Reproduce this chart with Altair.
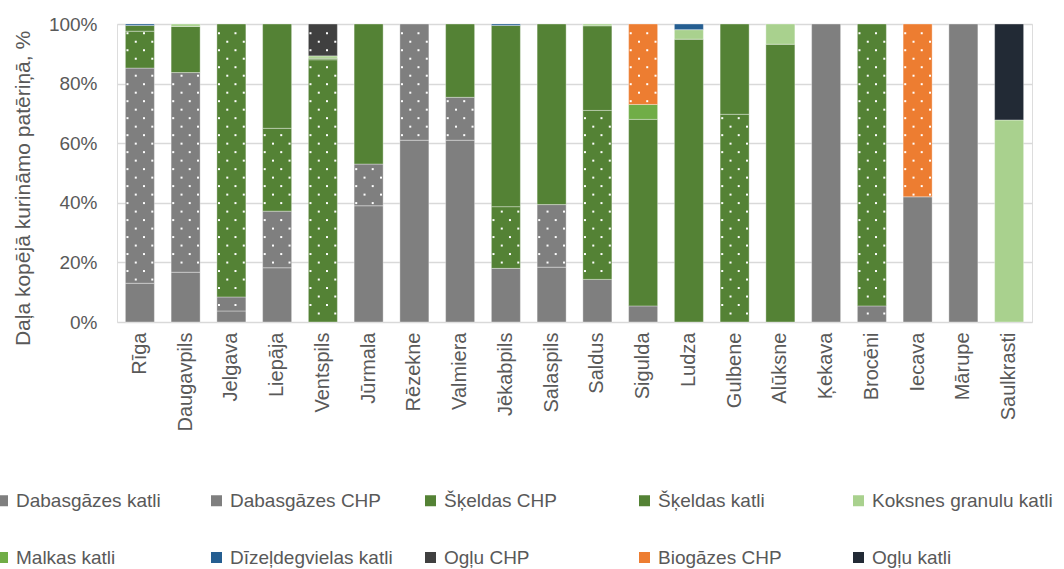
import math
import altair as alt
import pandas as pd

cities = ["Rīga", "Daugavpils", "Jelgava", "Liepāja", "Ventspils", "Jūrmala", "Rēzekne",
          "Valmiera", "Jēkabpils", "Salaspils", "Saldus", "Sigulda", "Ludza", "Gulbene",
          "Alūksne", "Ķekava", "Brocēni", "Iecava", "Mārupe", "Saulkrasti"]

series = ["Dabasgāzes katli", "Dabasgāzes CHP", "Šķeldas CHP", "Šķeldas katli",
          "Koksnes granulu katli", "Malkas katli", "Dīzeļdegvielas katli", "Ogļu CHP",
          "Biogāzes CHP", "Ogļu katli"]
colors = ["#7F7F7F", "#7F7F7F", "#548235", "#548235", "#A9D18E",
          "#70AD47", "#255E91", "#404040", "#ED7D31", "#222A35"]
dotted = ["Dabasgāzes CHP", "Šķeldas CHP", "Ogļu CHP", "Biogāzes CHP"]

# share of each fuel / technology per city, %
dabasgazes_katli = [13.0, 16.7, 3.7, 18.2, 0, 39.0, 61.0, 61.0, 18.0, 18.4,
                    14.3, 5.4, 0, 0, 0, 100.0, 0, 42.0, 100.0, 0]
dabasgazes_chp = [72.2, 67.0, 4.7, 19.0, 0, 14.0, 39.0, 14.4, 0, 21.0,
                  0, 0, 0, 0, 0, 0, 5.4, 0, 0, 0]
skeldas_chp = [12.4, 0, 91.6, 27.8, 88.0, 0, 0, 0, 20.7, 0,
               56.7, 0, 0, 69.7, 0, 0, 94.6, 0, 0, 0]
skeldas_katli = [1.9, 15.5, 0, 35.0, 0.5, 47.0, 0, 24.6, 60.8, 60.6,
                 28.4, 62.6, 94.9, 30.3, 93.2, 0, 0, 0, 0, 0]
granulu_katli = [0, 0.8, 0, 0, 0.8, 0, 0, 0, 0, 0,
                 0.6, 0, 3.2, 0, 6.8, 0, 0, 0, 0, 67.8]
malkas_katli = [0, 0, 0, 0, 0, 0, 0, 0, 0, 0,
                0, 5.0, 0, 0, 0, 0, 0, 0, 0, 0]
dizelis_katli = [0.5, 0, 0, 0, 0, 0, 0, 0, 0.5, 0,
                 0, 0, 1.9, 0, 0, 0, 0, 0, 0, 0]
oglu_chp = [0, 0, 0, 0, 10.7, 0, 0, 0, 0, 0,
            0, 0, 0, 0, 0, 0, 0, 0, 0, 0]
biogazes_chp = [0, 0, 0, 0, 0, 0, 0, 0, 0, 0,
                0, 27.0, 0, 0, 0, 0, 0, 58.0, 0, 0]
oglu_katli = [0, 0, 0, 0, 0, 0, 0, 0, 0, 0,
              0, 0, 0, 0, 0, 0, 0, 0, 0, 32.2]

values = [dabasgazes_katli, dabasgazes_chp, skeldas_chp, skeldas_katli, granulu_katli,
          malkas_katli, dizelis_katli, oglu_chp, biogazes_chp, oglu_katli]

# stacked segments (lo/hi) and the white dot texture of the CHP segments;
# dot rows alternate between two column sets (slots 0/2 and 1/3 across the bar)
DOT_STEP = 2.85
rows, dots = [], []
for i, city in enumerate(cities):
    lo = 0.0
    for j, name in enumerate(series):
        v = values[j][i]
        if v <= 0:
            continue
        hi = lo + v
        rows.append({"city": city, "series": name, "lo": lo, "hi": hi, "order": j})
        if name in dotted:
            k0 = math.ceil((lo + 0.5) / DOT_STEP)
            k1 = math.floor((hi - 0.5) / DOT_STEP)
            for k in range(k0, k1 + 1):
                for slot in ([0, 2] if k % 2 == 0 else [1, 3]):
                    dots.append({"city": city, "y": k * DOT_STEP, "slot": slot})
        lo = hi

seg = pd.DataFrame(rows)
dot_df = pd.DataFrame(dots)

FONT = "Liberation Sans"
TXT = "#595959"

x_enc = alt.X("city:N", sort=cities, title=None,
              scale=alt.Scale(paddingInner=0.366, paddingOuter=0.183),
              axis=alt.Axis(labelAngle=-90, labelFontSize=20, labelColor=TXT, labelFont=FONT,
                            labelPadding=10, domain=False, ticks=False, grid=False,
                            labelOverlap=False))

y_scale = alt.Scale(domain=[0, 100], nice=False)

bars = alt.Chart(seg).mark_bar(stroke="white", strokeOpacity=0.35, strokeWidth=1).encode(
    x=x_enc,
    y=alt.Y("lo:Q", scale=y_scale,
            title="Daļa kopējā kurināmo patēriņā, %",
            axis=alt.Axis(values=list(range(0, 101, 10)), labelExpr="datum.value + '%'",
                          labelOverlap=False, labelFontSize=19, labelColor=TXT,
                          labelFont=FONT, labelPadding=20, ticks=False, domain=False,
                          grid=True, gridColor="#D9D9D9", gridWidth=1.5,
                          titleFontSize=21, titleFontWeight="normal", titleColor=TXT,
                          titleFont=FONT, titlePadding=15, titleY=164)),
    y2="hi:Q",
    color=alt.Color("series:N",
                    scale=alt.Scale(domain=series, range=colors),
                    legend=alt.Legend(orient="none", legendX=-124, legendY=467,
                                      direction="horizontal", columns=5, gridAlign="all",
                                      columnPadding=10, rowPadding=37,
                                      symbolType="square", symbolSize=121,
                                      symbolStrokeWidth=0, labelFontSize=19,
                                      labelColor=TXT, labelFont=FONT, labelOffset=4,
                                      labelLimit=300, title=None, padding=0)),
    order=alt.Order("order:Q"),
)

# one layer per dot column, shifted from the band centre
slot_shift = [-12.4, -4.1, 4.1, 12.4]
texture_layers = [
    alt.Chart(dot_df).transform_filter(alt.datum.slot == s)
    .mark_square(size=4, color="white", opacity=1, filled=True, xOffset=slot_shift[s])
    .encode(x=alt.X("city:N", sort=cities), y=alt.Y("y:Q", scale=y_scale))
    for s in range(4)
]

chart = alt.layer(bars, *texture_layers).properties(
    width=915, height=298,
    autosize=alt.AutoSizeParams(type="none"),
    padding={"left": 117, "top": 24, "right": 32, "bottom": 247},
).configure_view(stroke=None).configure(font=FONT)

chart.save("out.html", embed_options={"renderer": "svg", "actions": False})
